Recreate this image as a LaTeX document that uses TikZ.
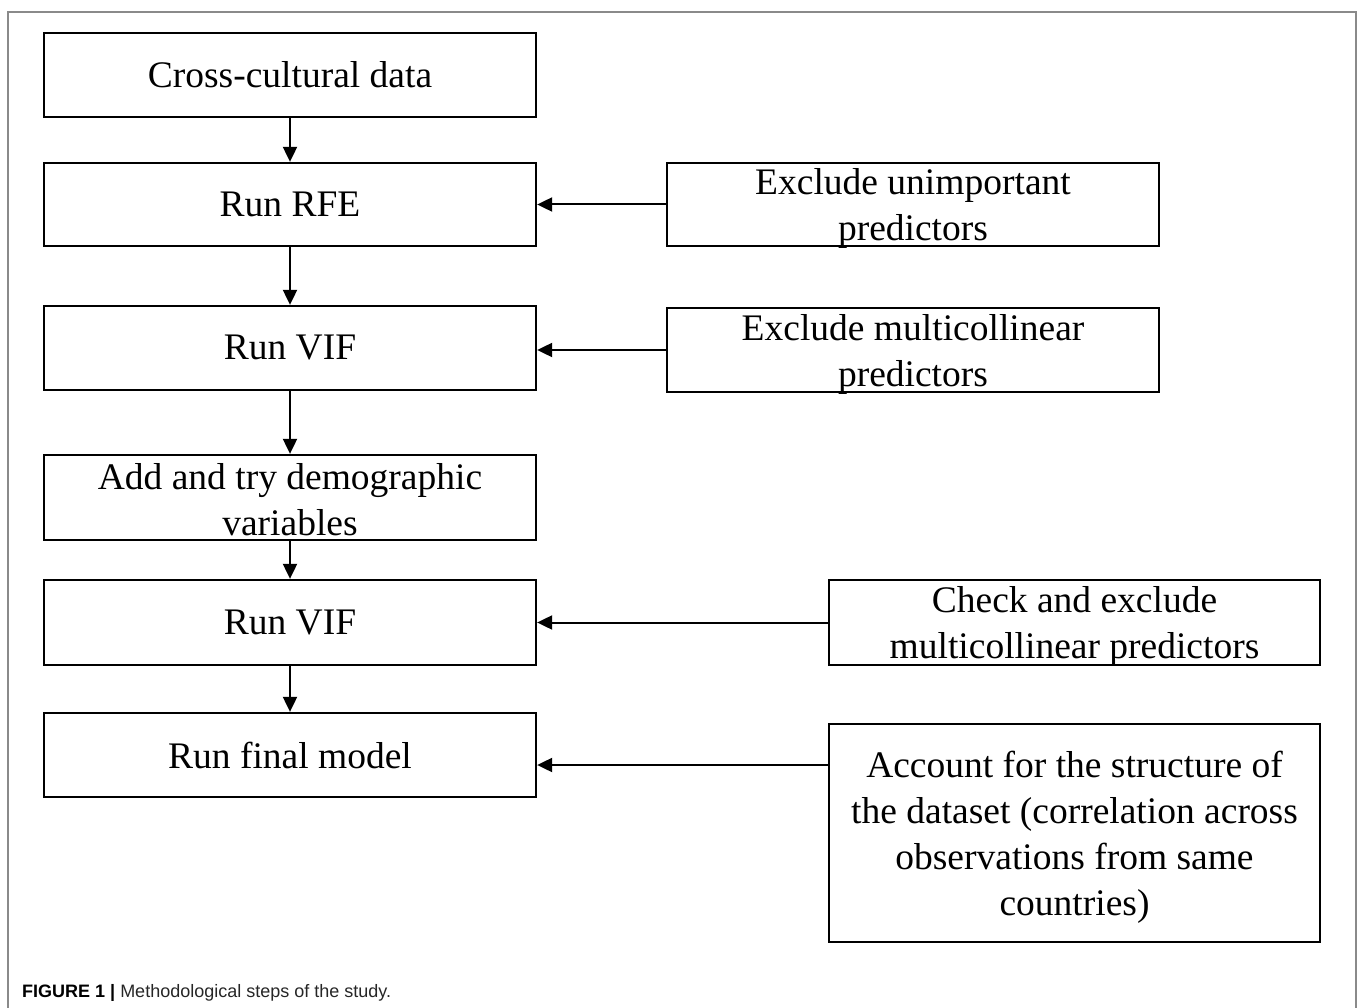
\documentclass[tikz,border=0pt]{standalone}
\usepackage{fontspec}
\setmainfont{Liberation Serif}
\newfontfamily\capfont{Liberation Sans}
\usetikzlibrary{arrows.meta}
\definecolor{framegray}{HTML}{8A8A8A}
\newcommand\topstrut[1]{\rule{0pt}{#1}}
\tikzset{
  stepbox/.style={draw=black, line width=2.3pt, minimum width=492pt, inner sep=0pt, align=center,
    font=\fontsize{37.5}{46}\selectfont},
  arr/.style={line width=2pt, -{Triangle[length=15pt,width=14pt]}}
}
\begin{document}
\begin{tikzpicture}[x=1pt,y=-1pt]
\useasboundingbox (0,0) rectangle (1357,1008);
\draw[framegray, line width=2pt] (8,1010) -- (8,12) -- (1356,12) -- (1356,1010);
% main column
\node[stepbox, minimum height=84pt] (b1) at (290,75) {Cross-cultural data};
\node[stepbox, minimum height=83pt] (b2) at (290,204.5) {Run RFE};
\node[stepbox, minimum height=84pt] (b3) at (290,348) {Run VIF};
\node[stepbox, minimum height=85pt] (b4) at (290,497.5) {\topstrut{30pt}Add and try demographic\\variables};
\node[stepbox, minimum height=85pt] (b5) at (290,622.5) {Run VIF};
\node[stepbox, minimum height=84pt] (b6) at (290,755) {Run final model};
% right column
\node[stepbox, minimum height=83pt] (r1) at (913,204.5) {Exclude unimportant\\\smash{predictors}};
\node[stepbox, minimum height=84pt] (r2) at (913,350) {Exclude multicollinear\\\smash{predictors}};
\node[stepbox, minimum height=85pt, minimum width=491pt] (r3) at (1074.5,622.5) {Check and exclude\\\smash{multicollinear predictors}};
\node[stepbox, minimum height=218pt, minimum width=491pt] (r4) at (1074.5,833) {Account for the structure of\\the dataset (correlation across\\observations from same\\\smash{countries)}};
% vertical arrows
\draw[arr] (b1.south) -- (b2.north);
\draw[arr] (b2.south) -- (b3.north);
\draw[arr] (b3.south) -- (b4.north);
\draw[arr] (b4.south) -- (b5.north);
\draw[arr] (b5.south) -- (b6.north);
% horizontal arrows
\draw[arr] (r1.west) -- (b2.east);
\draw[arr] (r2.west) -- (r2.west -| b3.east);
\draw[arr] (r3.west) -- (b5.east);
\draw[arr] ([yshift=-10pt]b6.east -| r4.west) -- ([yshift=-10pt]b6.east);
% caption
\node[anchor=base west, inner sep=0pt, font=\capfont\fontsize{18}{22}\selectfont] (cap) at (22,997)
  {\textbf{FIGURE 1 |} \textcolor{black!85}{Methodological steps of the study.}};
\end{tikzpicture}
\end{document}
